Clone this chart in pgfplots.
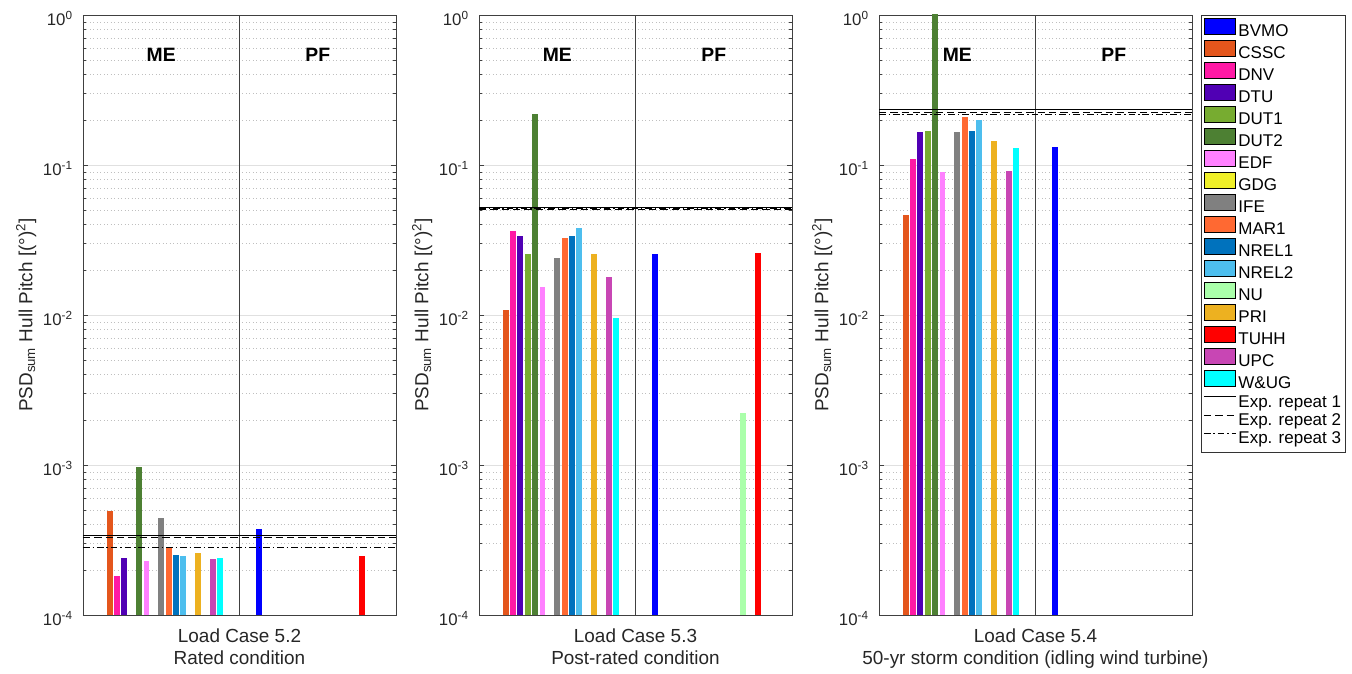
\documentclass[border=0pt]{standalone}
\usepackage{pgfplots}
\pgfplotsset{compat=1.18}
\usepackage{fontspec}
\setmainfont{Liberation Sans}

\definecolor{cBVMO}{RGB}{0,0,255}
\definecolor{cCSSC}{RGB}{228,86,28}
\definecolor{cDNV}{RGB}{255,25,165}
\definecolor{cDTU}{RGB}{80,0,180}
\definecolor{cDUTa}{RGB}{119,172,48}
\definecolor{cDUTb}{RGB}{77,128,51}
\definecolor{cEDF}{RGB}{255,128,255}
\definecolor{cGDG}{RGB}{240,240,40}
\definecolor{cIFE}{RGB}{128,128,128}
\definecolor{cMAR}{RGB}{255,105,50}
\definecolor{cNRELa}{RGB}{0,114,189}
\definecolor{cNRELb}{RGB}{77,190,238}
\definecolor{cNU}{RGB}{170,255,170}
\definecolor{cPRI}{RGB}{237,177,32}
\definecolor{cTUHH}{RGB}{255,0,0}
\definecolor{cUPC}{RGB}{200,70,180}
\definecolor{cWUG}{RGB}{0,255,255}

\pgfplotsset{
  panelstyle/.style={
    scale only axis, width=234.75pt, height=450pt,
    xmin=0.5, xmax=2.5, ymin=1e-4, ymax=1,
    xtick=\empty,
    ytick={1e-4,1e-3,1e-2,1e-1,1},
    yticklabels={10\textsuperscript{-4},10\textsuperscript{-3},10\textsuperscript{-2},10\textsuperscript{-1},10\textsuperscript{0}},
    minor ytick={2e-4,3e-4,4e-4,5e-4,6e-4,7e-4,8e-4,9e-4,
                 2e-3,3e-3,4e-3,5e-3,6e-3,7e-3,8e-3,9e-3,
                 2e-2,3e-2,4e-2,5e-2,6e-2,7e-2,8e-2,9e-2,
                 2e-1,3e-1,4e-1,5e-1,6e-1,7e-1,8e-1,9e-1},
    ymajorgrids, yminorgrids,
    major grid style={black!12, line width=0.5pt},
    minor grid style={black!25, line width=0.5pt, dash pattern=on 0.6pt off 2pt},
    tick align=inside, ytick pos=both, yticklabel pos=left,
    major tick length=3.5pt, minor tick length=2.2pt,
    every tick/.style={black!75, line width=0.5pt},
    axis line style={black!75, line width=0.6pt},
    yticklabel style={font=\fontsize{12.6}{14}\selectfont, text=black!85, anchor=east, inner sep=0pt, xshift=-7.5pt, yshift=-2.5pt},
    xlabel style={font=\fontsize{14.2}{16.5}\selectfont, text=black!85, align=center,
                  at={(axis description cs:0.5,0)}, anchor=north, inner sep=0pt, yshift=-10.5pt},
    ylabel style={font=\fontsize{14.2}{16.5}\selectfont, text=black!85,
                  at={(axis description cs:-0.162,0.5)}, anchor=base, inner sep=0pt},
    ylabel={PSD\textsubscript{sum} Hull Pitch [(°)\textsuperscript{2}]},
  },
  br/.style={ybar, bar width=0.03765, bar shift=0pt, draw=none, fill=#1, forget plot},
  expa/.style={black, line width=0.8pt, forget plot},
  expb/.style={black, line width=0.8pt, dash pattern=on 5.5pt off 3pt, forget plot},
  expc/.style={black, line width=0.8pt, dash pattern=on 5pt off 2.2pt on 1pt off 2.2pt, forget plot},
  divider/.style={black!75, line width=0.6pt, forget plot},
  lpatch/.style={legend image code/.code={\fill[fill=#1] (0pt,-1.45pt) rectangle (23.8pt,10.55pt);}},
  lline/.style={legend image code/.code={\draw[#1] (0pt,4.5pt) -- (24pt,4.5pt);}},
}
\newcommand{\grp}[1]{\node[font=\fontsize{14.5}{17}\selectfont\bfseries] at (axis cs:#1,0.54)}

\begin{document}
\begin{tikzpicture}
\path[use as bounding box] (0,0) rectangle (1014pt,505.5pt);

% ---------------- Load Case 5.2 ----------------
\begin{axis}[ymode=log, log origin=infty, panelstyle, at={(62.25pt,44.25pt)}, anchor=south west,
  xlabel={Load Case 5.2\\Rated condition}]
\addplot[divider] coordinates {(1.5,1e-4) (1.5,1)};
\addplot[br=cCSSC]  coordinates {(0.67059,4.9e-4)};
\addplot[br=cDNV]   coordinates {(0.71765,1.82e-4)};
\addplot[br=cDTU]   coordinates {(0.76471,2.41e-4)};
\addplot[br=cDUTb]  coordinates {(0.85882,9.75e-4)};
\addplot[br=cEDF]   coordinates {(0.90588,2.29e-4)};
\addplot[br=cIFE]   coordinates {(1.00000,4.43e-4)};
\addplot[br=cMAR]   coordinates {(1.04706,2.84e-4)};
\addplot[br=cNRELa] coordinates {(1.09412,2.51e-4)};
\addplot[br=cNRELb] coordinates {(1.14118,2.46e-4)};
\addplot[br=cPRI]   coordinates {(1.23529,2.60e-4)};
\addplot[br=cUPC]   coordinates {(1.32941,2.35e-4)};
\addplot[br=cWUG]   coordinates {(1.37647,2.41e-4)};
\addplot[br=cBVMO]  coordinates {(1.62353,3.74e-4)};
\addplot[br=cTUHH]  coordinates {(2.28235,2.46e-4)};
\addplot[expa] coordinates {(0.5,3.40e-4) (2.5,3.40e-4)};
\addplot[expb] coordinates {(0.5,3.27e-4) (2.5,3.27e-4)};
\addplot[expc] coordinates {(0.5,2.80e-4) (2.5,2.80e-4)};
\grp{1}{ME};
\grp{2}{PF};
\end{axis}

% ---------------- Load Case 5.3 ----------------
\begin{axis}[ymode=log, log origin=infty, panelstyle, at={(359.25pt,44.25pt)}, anchor=south west,
  xlabel={Load Case 5.3\\Post-rated condition}]
\addplot[divider] coordinates {(1.5,1e-4) (1.5,1)};
\addplot[br=cCSSC]  coordinates {(0.67059,1.08e-2)};
\addplot[br=cDNV]   coordinates {(0.71765,3.63e-2)};
\addplot[br=cDTU]   coordinates {(0.76471,3.36e-2)};
\addplot[br=cDUTa]  coordinates {(0.81176,2.56e-2)};
\addplot[br=cDUTb]  coordinates {(0.85882,0.218)};
\addplot[br=cEDF]   coordinates {(0.90588,1.54e-2)};
\addplot[br=cIFE]   coordinates {(1.00000,2.41e-2)};
\addplot[br=cMAR]   coordinates {(1.04706,3.27e-2)};
\addplot[br=cNRELa] coordinates {(1.09412,3.36e-2)};
\addplot[br=cNRELb] coordinates {(1.14118,3.82e-2)};
\addplot[br=cPRI]   coordinates {(1.23529,2.56e-2)};
\addplot[br=cUPC]   coordinates {(1.32941,1.80e-2)};
\addplot[br=cWUG]   coordinates {(1.37647,9.55e-3)};
\addplot[br=cBVMO]  coordinates {(1.62353,2.55e-2)};
\addplot[br=cNU]    coordinates {(2.18824,2.22e-3)};
\addplot[br=cTUHH]  coordinates {(2.28235,2.59e-2)};
\addplot[expa] coordinates {(0.5,5.19e-2) (2.5,5.19e-2)};
\addplot[expb] coordinates {(0.5,5.04e-2) (2.5,5.04e-2)};
\addplot[expc] coordinates {(0.5,5.10e-2) (2.5,5.10e-2)};
\grp{1}{ME};
\grp{2}{PF};
\end{axis}

% ---------------- Load Case 5.4 ----------------
\begin{axis}[ymode=log, log origin=infty, panelstyle, at={(659.25pt,44.25pt)}, anchor=south west,
  xlabel={Load Case 5.4\\50-yr storm condition (idling wind turbine)},
  legend style={at={(1,1)}, anchor=north west, xshift=6.75pt,
    draw=black!80, line width=0.5pt, fill=white,
    inner xsep=1.5pt, inner ysep=2pt,
    font=\fontsize{12.75}{15}\selectfont, text=black,
    nodes={inner xsep=1.5pt, inner ysep=1pt, text height=10.3pt, text depth=3.8pt},
    row sep=-2.35pt, /tikz/column sep=0pt},
  legend cell align=left]
\addplot[divider] coordinates {(1.5,1e-4) (1.5,1)};
\addplot[br=cCSSC]  coordinates {(0.67059,4.64e-2)};
\addplot[br=cDNV]   coordinates {(0.71765,0.110)};
\addplot[br=cDTU]   coordinates {(0.76471,0.165)};
\addplot[br=cDUTa]  coordinates {(0.81176,0.169)};
\addplot[br=cDUTb]  coordinates {(0.85882,1.5)};
\addplot[br=cEDF]   coordinates {(0.90588,8.98e-2)};
\addplot[br=cIFE]   coordinates {(1.00000,0.165)};
\addplot[br=cMAR]   coordinates {(1.04706,0.210)};
\addplot[br=cNRELa] coordinates {(1.09412,0.169)};
\addplot[br=cNRELb] coordinates {(1.14118,0.200)};
\addplot[br=cPRI]   coordinates {(1.23529,0.144)};
\addplot[br=cUPC]   coordinates {(1.32941,9.12e-2)};
\addplot[br=cWUG]   coordinates {(1.37647,0.130)};
\addplot[br=cBVMO]  coordinates {(1.62353,0.131)};
\addplot[expa] coordinates {(0.5,0.235) (2.5,0.235)};
\addplot[expb] coordinates {(0.5,0.223) (2.5,0.223)};
\addplot[expc] coordinates {(0.5,0.218) (2.5,0.218)};
\grp{1}{ME};
\grp{2}{PF};
\addlegendimage{lpatch=cBVMO}\addlegendentry{BVMO}
\addlegendimage{lpatch=cCSSC}\addlegendentry{CSSC}
\addlegendimage{lpatch=cDNV}\addlegendentry{DNV}
\addlegendimage{lpatch=cDTU}\addlegendentry{DTU}
\addlegendimage{lpatch=cDUTa}\addlegendentry{DUT1}
\addlegendimage{lpatch=cDUTb}\addlegendentry{DUT2}
\addlegendimage{lpatch=cEDF}\addlegendentry{EDF}
\addlegendimage{lpatch=cGDG}\addlegendentry{GDG}
\addlegendimage{lpatch=cIFE}\addlegendentry{IFE}
\addlegendimage{lpatch=cMAR}\addlegendentry{MAR1}
\addlegendimage{lpatch=cNRELa}\addlegendentry{NREL1}
\addlegendimage{lpatch=cNRELb}\addlegendentry{NREL2}
\addlegendimage{lpatch=cNU}\addlegendentry{NU}
\addlegendimage{lpatch=cPRI}\addlegendentry{PRI}
\addlegendimage{lpatch=cTUHH}\addlegendentry{TUHH}
\addlegendimage{lpatch=cUPC}\addlegendentry{UPC}
\addlegendimage{lpatch=cWUG}\addlegendentry{W\&UG}
\addlegendimage{lline={black, line width=0.8pt}}\addlegendentry{Exp. repeat 1}
\addlegendimage{lline={black, line width=0.8pt, dash pattern=on 5.5pt off 3pt}}\addlegendentry{Exp. repeat 2}
\addlegendimage{lline={black, line width=0.8pt, dash pattern=on 5pt off 2.2pt on 1pt off 2.2pt}}\addlegendentry{Exp. repeat 3}
\end{axis}
\end{tikzpicture}
\end{document}
